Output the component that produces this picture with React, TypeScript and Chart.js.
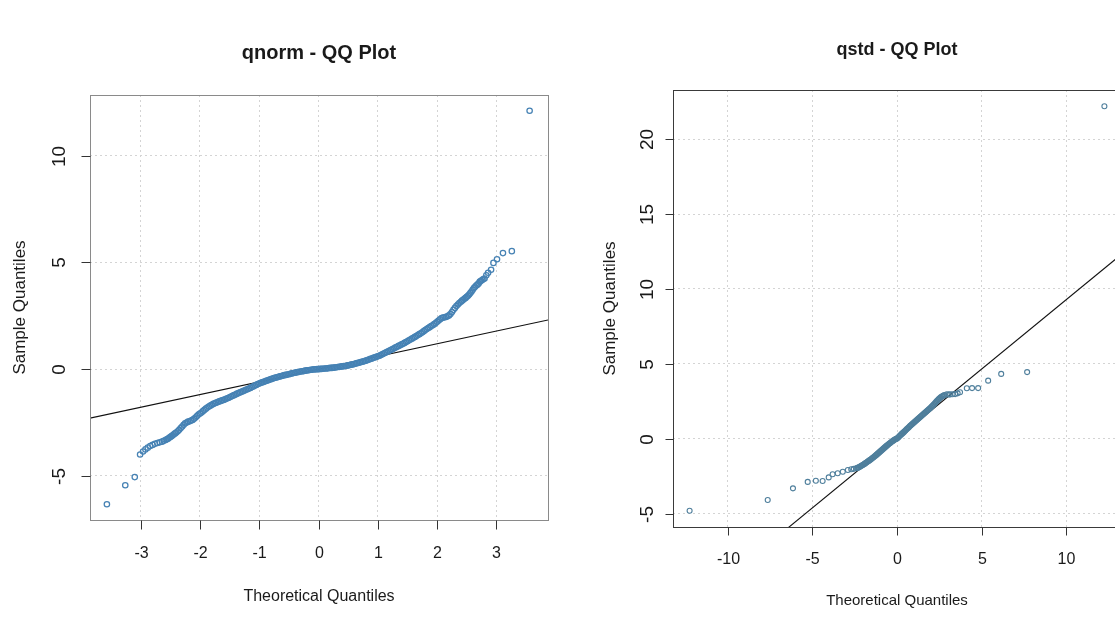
import { useEffect, useRef } from "react";
import { Chart, registerables } from "chart.js";

Chart.register(...registerables);

// ---- qnorm QQ plot: theoretical normal quantiles vs. sample quantiles ----
const normTheoretical = [
  -3.57, -3.26, -3.1, -3.01, -2.96, -2.92, -2.88, -2.84, -2.8, -2.76, -2.72, -2.68,
  -2.64, -2.61, -2.58, -2.56, -2.54, -2.52, -2.5, -2.48, -2.46, -2.44, -2.42,
  -2.4, -2.375, -2.35, -2.325, -2.3, -2.275, -2.25, -2.225, -2.2, -2.175, -2.15, -2.125,
  -2.1, -2.075, -2.05, -2.025, -2.0, -1.975, -1.95, -1.925, -1.9, -1.875, -1.85, -1.825,
  -1.8, -1.775, -1.75, -1.725, -1.7, -1.675, -1.65, -1.625, -1.6, -1.575, -1.55, -1.525,
  -1.5, -1.475, -1.45, -1.425, -1.4, -1.375, -1.35, -1.325, -1.3, -1.275, -1.25, -1.225,
  -1.2, -1.175, -1.15, -1.125, -1.1, -1.075, -1.05, -1.025, -1.0, -0.975, -0.95, -0.925,
  -0.9, -0.875, -0.85, -0.825, -0.8, -0.775, -0.75, -0.725, -0.7, -0.675, -0.65, -0.625,
  -0.6, -0.575, -0.55, -0.525, -0.5, -0.475, -0.45, -0.425, -0.4, -0.375, -0.35, -0.325,
  -0.3, -0.275, -0.25, -0.225, -0.2, -0.175, -0.15, -0.125, -0.1, -0.075, -0.05, -0.025,
  0.0, 0.025, 0.05, 0.075, 0.1, 0.125, 0.15, 0.175, 0.2, 0.225, 0.25, 0.275,
  0.3, 0.325, 0.35, 0.375, 0.4, 0.425, 0.45, 0.475, 0.5, 0.525, 0.55, 0.575,
  0.6, 0.625, 0.65, 0.675, 0.7, 0.725, 0.75, 0.775, 0.8, 0.825, 0.85, 0.875,
  0.9, 0.925, 0.95, 0.975, 1.0, 1.025, 1.05, 1.075, 1.1, 1.125, 1.15, 1.175,
  1.2, 1.225, 1.25, 1.275, 1.3, 1.325, 1.35, 1.375, 1.4, 1.425, 1.45, 1.475,
  1.5, 1.525, 1.55, 1.575, 1.6, 1.625, 1.65, 1.675, 1.7, 1.725, 1.75, 1.775,
  1.8, 1.825, 1.85, 1.875, 1.9, 1.925, 1.95, 1.975, 2.0, 2.025, 2.05, 2.075,
  2.1, 2.125, 2.15, 2.175, 2.2, 2.225, 2.25, 2.275, 2.3, 2.325, 2.35, 2.375,
  2.4, 2.42, 2.44, 2.46, 2.48, 2.5, 2.52, 2.54, 2.56, 2.58, 2.6, 2.62,
  2.64, 2.66, 2.68, 2.7, 2.72, 2.74, 2.76, 2.78, 2.8, 2.83, 2.86, 2.91,
  2.95, 3.01, 3.11, 3.26, 3.56,
];
const normSample = [
  -6.33, -5.44, -5.06, -4.0, -3.86, -3.76, -3.68, -3.6, -3.55, -3.5, -3.46, -3.43,
  -3.4, -3.36, -3.32, -3.29, -3.26, -3.22, -3.18, -3.14, -3.1, -3.05, -3.01,
  -2.97, -2.91, -2.84, -2.76, -2.69, -2.61, -2.54, -2.5, -2.46, -2.44, -2.41, -2.38,
  -2.33, -2.27, -2.2, -2.13, -2.08, -2.03, -1.97, -1.91, -1.85, -1.8, -1.75, -1.71,
  -1.67, -1.63, -1.6, -1.57, -1.54, -1.51, -1.49, -1.46, -1.44, -1.41, -1.38, -1.35,
  -1.32, -1.28, -1.25, -1.22, -1.19, -1.15, -1.12, -1.09, -1.06, -1.03, -1.0, -0.97,
  -0.94, -0.91, -0.88, -0.84, -0.81, -0.77, -0.74, -0.7, -0.67, -0.64, -0.62, -0.59,
  -0.57, -0.54, -0.52, -0.49, -0.47, -0.44, -0.42, -0.4, -0.38, -0.36, -0.34, -0.32,
  -0.3, -0.28, -0.27, -0.25, -0.24, -0.22, -0.2, -0.18, -0.17, -0.15, -0.14, -0.12,
  -0.11, -0.1, -0.09, -0.07, -0.06, -0.05, -0.04, -0.03, -0.02, -0.01, -0.01, 0.0,
  0.0, 0.01, 0.01, 0.02, 0.03, 0.03, 0.04, 0.05, 0.06, 0.06, 0.07, 0.08,
  0.09, 0.1, 0.11, 0.12, 0.13, 0.14, 0.15, 0.16, 0.18, 0.19, 0.21, 0.22,
  0.24, 0.26, 0.28, 0.3, 0.32, 0.34, 0.36, 0.38, 0.4, 0.43, 0.45, 0.48,
  0.5, 0.53, 0.55, 0.58, 0.6, 0.63, 0.66, 0.7, 0.73, 0.77, 0.8, 0.84,
  0.87, 0.91, 0.94, 0.98, 1.02, 1.05, 1.09, 1.12, 1.16, 1.19, 1.23, 1.27,
  1.31, 1.35, 1.39, 1.43, 1.47, 1.51, 1.55, 1.6, 1.64, 1.68, 1.73, 1.78,
  1.83, 1.88, 1.93, 1.97, 2.02, 2.06, 2.11, 2.16, 2.22, 2.28, 2.34, 2.39,
  2.42, 2.43, 2.45, 2.48, 2.52, 2.58, 2.68, 2.78, 2.87, 2.96, 3.03, 3.1,
  3.16, 3.21, 3.25, 3.3, 3.34, 3.39, 3.44, 3.5, 3.57, 3.64, 3.72, 3.8,
  3.86, 3.92, 3.96, 4.02, 4.1, 4.14, 4.18, 4.22, 4.25, 4.4, 4.52, 4.66,
  4.98, 5.15, 5.44, 5.53, 12.11,
];
const normLineSlope = 0.596;
const normLineIntercept = 0.0;
const normXTicks = [-3, -2, -1, 0, 1, 2, 3];
const normYTicks = [-5, 0, 5, 10];

// ---- qstd QQ plot: theoretical standardized-t quantiles vs. sample quantiles ----
const stdTheoretical = [
  -12.24, -7.63, -6.14, -5.27, -4.79, -4.39, -4.03, -3.8, -3.5, -3.2, -2.9, -2.7, -2.55,
  -2.4, -2.35, -2.3, -2.25, -2.2, -2.15, -2.1, -2.05, -2.0, -1.95, -1.9, -1.85,
  -1.8, -1.75, -1.7, -1.65, -1.6, -1.55, -1.5, -1.45, -1.4, -1.35, -1.3, -1.25,
  -1.2, -1.15, -1.1, -1.05, -1.0, -0.95, -0.9, -0.85, -0.8, -0.75, -0.7, -0.65,
  -0.6, -0.55, -0.5, -0.45, -0.4, -0.35, -0.3, -0.25, -0.2, -0.15, -0.1, -0.05,
  0.0, 0.05, 0.1, 0.15, 0.2, 0.25, 0.3, 0.35, 0.4, 0.45, 0.5, 0.55,
  0.6, 0.65, 0.7, 0.75, 0.8, 0.85, 0.9, 0.95, 1.0, 1.05, 1.1, 1.15,
  1.2, 1.25, 1.3, 1.35, 1.4, 1.45, 1.5, 1.55, 1.6, 1.65, 1.7, 1.75,
  1.8, 1.85, 1.9, 1.95, 2.0, 2.05, 2.1, 2.15, 2.2, 2.25, 2.3, 2.35,
  2.4, 2.45, 2.5, 2.55, 2.6, 2.65, 2.7, 2.75, 2.8,
  2.94, 3.05, 3.13, 3.28, 3.43, 3.58, 3.72, 4.12, 4.43, 4.79, 5.38, 6.15, 7.68, 12.24,
];
const stdSample = [
  -4.81, -4.09, -3.31, -2.88, -2.8, -2.82, -2.58, -2.37, -2.3, -2.2, -2.09, -2.04, -2.01,
  -1.97, -1.95, -1.93, -1.9, -1.87, -1.84, -1.8, -1.77, -1.73, -1.7, -1.66, -1.62,
  -1.58, -1.54, -1.5, -1.46, -1.42, -1.38, -1.33, -1.29, -1.25, -1.2, -1.15, -1.11,
  -1.06, -1.01, -0.96, -0.91, -0.86, -0.81, -0.76, -0.71, -0.66, -0.61, -0.56, -0.51,
  -0.46, -0.42, -0.37, -0.32, -0.28, -0.23, -0.19, -0.15, -0.11, -0.07, -0.04, -0.01,
  0.02, 0.07, 0.12, 0.18, 0.23, 0.29, 0.34, 0.39, 0.44, 0.5, 0.55, 0.61,
  0.66, 0.72, 0.77, 0.83, 0.88, 0.93, 0.98, 1.03, 1.08, 1.13, 1.18, 1.24,
  1.29, 1.34, 1.39, 1.44, 1.49, 1.54, 1.59, 1.64, 1.69, 1.74, 1.79, 1.84,
  1.89, 1.94, 1.99, 2.04, 2.09, 2.15, 2.2, 2.26, 2.32, 2.38, 2.45, 2.51,
  2.57, 2.63, 2.68, 2.73, 2.78, 2.82, 2.85, 2.88, 2.91,
  2.97, 2.95, 2.96, 2.97, 2.98, 3.03, 3.1, 3.37, 3.38, 3.38, 3.88, 4.33, 4.45, 22.2,
];
const stdLineSlope = 0.928;
const stdLineIntercept = 0.02;
const stdXTicks = [-10, -5, 0, 5, 10];
const stdYTicks = [-5, 0, 5, 10, 15, 20];

const FONT = '"Liberation Sans", Arial, Helvetica, sans-serif';

type PanelLayout = {
  title: string;
  titleSize: number;
  titleY: number;
  xLabelSize: number;
  yLabelSize: number;
  xTitleSize: number;
  yTitleSize: number;
  xLabelOffset: number;
  xTitleOffset: number;
  yLabelOffset: number;
  yTitleOffset: number;
  frameColor: string;
  tickColor: string;
  tickLength: number;
};

// Draws the base-graphics look: framed plot region, outward tick marks,
// rotated y labels and the main / axis titles.
const rStylePlugin = {
  id: "rStyle",
  afterDraw(chart: any, _args: any, opts: PanelLayout) {
    const { ctx, chartArea: a, scales } = chart;
    const x = scales.x;
    const y = scales.y;
    ctx.save();

    ctx.strokeStyle = opts.frameColor;
    ctx.lineWidth = 1;
    ctx.strokeRect(Math.round(a.left) + 0.5, Math.round(a.top) + 0.5, Math.round(a.width), Math.round(a.height));

    ctx.strokeStyle = opts.tickColor;
    ctx.fillStyle = "#1a1a1a";
    ctx.textAlign = "center";
    ctx.textBaseline = "middle";

    ctx.font = `${opts.xLabelSize}px ${FONT}`;
    x.ticks.forEach((t: any) => {
      const px = Math.round(x.getPixelForValue(t.value)) + 0.5;
      ctx.beginPath();
      ctx.moveTo(px, Math.round(a.bottom) + 0.5);
      ctx.lineTo(px, Math.round(a.bottom) + 0.5 + opts.tickLength);
      ctx.stroke();
      ctx.fillText(String(t.value), px, a.bottom + opts.xLabelOffset);
    });

    ctx.font = `${opts.yLabelSize}px ${FONT}`;
    y.ticks.forEach((t: any) => {
      const py = Math.round(y.getPixelForValue(t.value)) + 0.5;
      ctx.beginPath();
      ctx.moveTo(Math.round(a.left) + 0.5, py);
      ctx.lineTo(Math.round(a.left) + 0.5 - opts.tickLength, py);
      ctx.stroke();
      ctx.save();
      ctx.translate(a.left - opts.yLabelOffset, py);
      ctx.rotate(-Math.PI / 2);
      ctx.fillText(String(t.value), 0, 0);
      ctx.restore();
    });

    const cx = (a.left + a.right) / 2;
    const cy = (a.top + a.bottom) / 2;
    ctx.font = `${opts.xTitleSize}px ${FONT}`;
    ctx.fillText("Theoretical Quantiles", cx, a.bottom + opts.xTitleOffset);
    ctx.save();
    ctx.font = `${opts.yTitleSize}px ${FONT}`;
    ctx.translate(a.left - opts.yTitleOffset, cy);
    ctx.rotate(-Math.PI / 2);
    ctx.fillText("Sample Quantiles", 0, 0);
    ctx.restore();

    ctx.font = `bold ${opts.titleSize}px ${FONT}`;
    ctx.fillText(opts.title, cx, opts.titleY);
    ctx.restore();
  },
};

type PanelProps = {
  xs: number[];
  ys: number[];
  slope: number;
  intercept: number;
  xTicks: number[];
  yTicks: number[];
  xRange: [number, number];
  yRange: [number, number];
  pointColor: string;
  pointRadius: number;
  pointWidth: number;
  padding: { left: number; top: number; right: number; bottom: number };
  layout: PanelLayout;
  width: number;
  height: number;
  left: number;
};

function QQPanel(p: PanelProps) {
  const ref = useRef<HTMLCanvasElement | null>(null);

  useEffect(() => {
    if (!ref.current) return;
    const points = p.xs.map((v, i) => ({ x: v, y: p.ys[i] }));
    const [x0, x1] = p.xRange;
    const refLine = [
      { x: x0, y: p.slope * x0 + p.intercept },
      { x: x1, y: p.slope * x1 + p.intercept },
    ];

    const gridCommon = {
      color: "#d4d4d4",
      lineWidth: 1,
      drawTicks: false,
    };

    const chart = new Chart(ref.current, {
      type: "scatter",
      data: {
        datasets: [
          {
            type: "scatter",
            data: points,
            pointStyle: "circle",
            pointRadius: p.pointRadius,
            pointBorderWidth: p.pointWidth,
            pointBorderColor: p.pointColor,
            pointBackgroundColor: "rgba(0,0,0,0)",
            pointHoverRadius: p.pointRadius,
          },
          {
            type: "line",
            data: refLine,
            borderColor: "#111111",
            borderWidth: 1.1,
            pointRadius: 0,
            fill: false,
          },
        ],
      },
      options: {
        responsive: false,
        animation: false,
        events: [],
        layout: { padding: p.padding },
        plugins: {
          legend: { display: false },
          tooltip: { enabled: false },
          title: { display: false },
          rStyle: p.layout,
        } as any,
        scales: {
          x: {
            type: "linear",
            min: p.xRange[0],
            max: p.xRange[1],
            afterBuildTicks: (s: any) => {
              s.ticks = p.xTicks.map((v) => ({ value: v }));
            },
            ticks: { display: false },
            grid: gridCommon,
            border: { display: false, dash: [2, 3] },
          },
          y: {
            type: "linear",
            min: p.yRange[0],
            max: p.yRange[1],
            afterBuildTicks: (s: any) => {
              s.ticks = p.yTicks.map((v) => ({ value: v }));
            },
            ticks: { display: false },
            grid: gridCommon,
            border: { display: false, dash: [2, 3] },
          },
        },
      },
      plugins: [rStylePlugin],
    });
    return () => chart.destroy();
  }, []);

  return (
    <canvas
      ref={ref}
      width={p.width}
      height={p.height}
      style={{ position: "absolute", left: p.left, top: 0, width: p.width, height: p.height }}
    />
  );
}

export default function App() {
  return (
    <div
      style={{
        position: "fixed",
        left: 0,
        top: 0,
        width: 1115,
        height: 626,
        overflow: "hidden",
        background: "#ffffff",
      }}
    >
      <QQPanel
        xs={normTheoretical}
        ys={normSample}
        slope={normLineSlope}
        intercept={normLineIntercept}
        xTicks={normXTicks}
        yTicks={normYTicks}
        xRange={[-3.855, 3.87]}
        yRange={[-7.07, 12.85]}
        pointColor="#4682b4"
        pointRadius={2.7}
        pointWidth={1.25}
        padding={{ left: 90, top: 95, right: 12, bottom: 106 }}
        width={560}
        height={626}
        left={0}
        layout={{
          title: "qnorm - QQ Plot",
          titleSize: 20,
          titleY: 53,
          xLabelSize: 16,
          yLabelSize: 19,
          xTitleSize: 16,
          yTitleSize: 17,
          xLabelOffset: 34,
          xTitleOffset: 77,
          yLabelOffset: 30,
          yTitleOffset: 70,
          frameColor: "#8a8a8a",
          tickColor: "#333333",
          tickLength: 9,
        }}
      />
      <QQPanel
        xs={stdTheoretical}
        ys={stdSample}
        slope={stdLineSlope}
        intercept={stdLineIntercept}
        xTicks={stdXTicks}
        yTicks={stdYTicks}
        xRange={[-13.22, 13.22]}
        yRange={[-5.89, 23.28]}
        pointColor="#4f7f9c"
        pointRadius={2.5}
        pointWidth={1.1}
        padding={{ left: 83, top: 90, right: 29, bottom: 99 }}
        width={560}
        height={626}
        left={590}
        layout={{
          title: "qstd - QQ Plot",
          titleSize: 18,
          titleY: 50,
          xLabelSize: 16,
          yLabelSize: 19,
          xTitleSize: 15,
          yTitleSize: 17,
          xLabelOffset: 33,
          xTitleOffset: 74,
          yLabelOffset: 25,
          yTitleOffset: 63,
          frameColor: "#3a3a3a",
          tickColor: "#333333",
          tickLength: 8,
        }}
      />
    </div>
  );
}
